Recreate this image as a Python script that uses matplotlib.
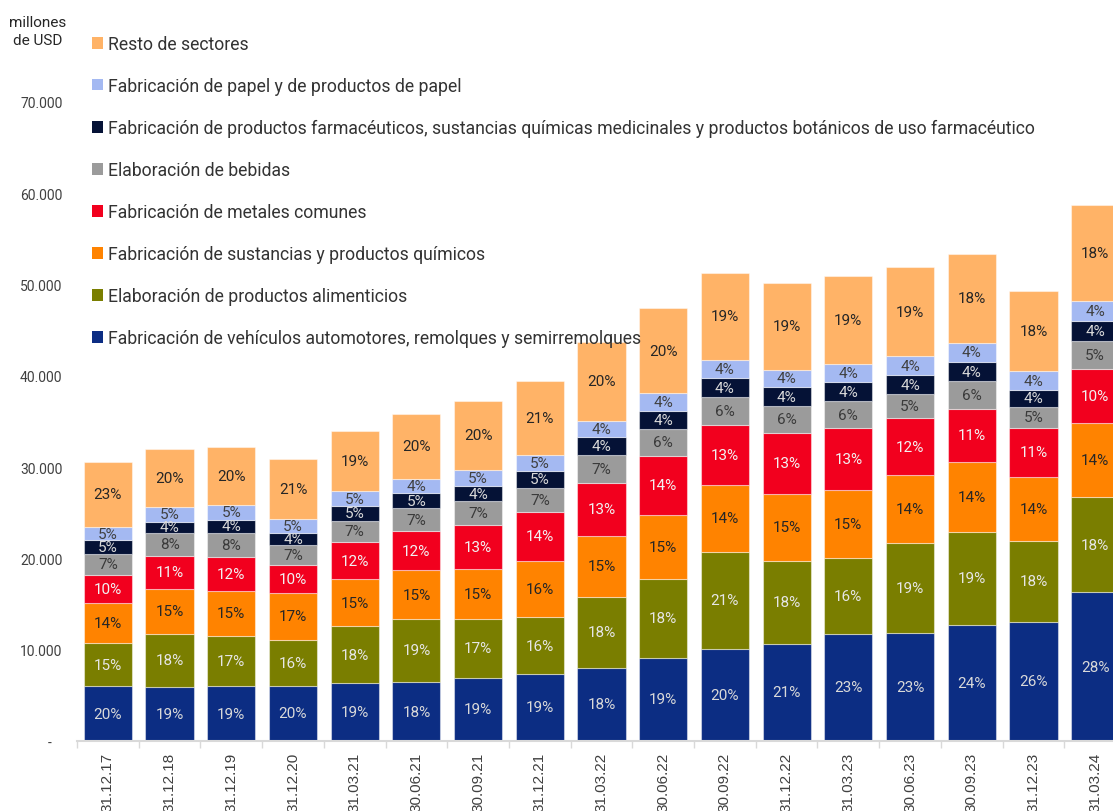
import matplotlib.pyplot as plt
import numpy as np
from matplotlib.patches import Patch
from matplotlib.ticker import FixedLocator, FuncFormatter

plt.rcParams['font.family'] = ['Roboto', 'DejaVu Sans']

fechas = ['31.12.17', '31.12.18', '31.12.19', '31.12.20', '31.03.21', '30.06.21', '30.09.21',
          '31.12.21', '31.03.22', '30.06.22', '30.09.22', '31.12.22', '31.03.23', '30.06.23',
          '30.09.23', '31.12.23', '31.03.24']

# millones de USD
vehiculos = [6020, 5950, 6000, 6060, 6350, 6460, 6950, 7340, 8000, 9140, 10130, 10670, 11760, 11830, 12720, 13040, 16320]
alimenticios = [4710, 5810, 5550, 5040, 6240, 6940, 6400, 6230, 7780, 8610, 10570, 9040, 8270, 9910, 10180, 8880, 10410]
quimicos = [4410, 4900, 4850, 5150, 5150, 5290, 5540, 6160, 6730, 6980, 7370, 7390, 7500, 7370, 7670, 7000, 8110]
metales = [3070, 3610, 3780, 3070, 4020, 4300, 4820, 5370, 5760, 6520, 6540, 6680, 6750, 6240, 5840, 5400, 5900]
bebidas = [2260, 2520, 2630, 2190, 2380, 2520, 2560, 2640, 3070, 2960, 3070, 2920, 2920, 2630, 3010, 2310, 3090]
farmaceuticos = [1530, 1200, 1390, 1280, 1570, 1640, 1640, 1820, 1920, 1940, 2080, 2050, 2080, 2080, 2110, 1800, 2190]
papel = [1420, 1680, 1680, 1530, 1680, 1580, 1820, 1800, 1830, 1930, 1940, 1930, 1970, 2110, 2070, 2110, 2230]
resto = [7180, 6290, 6290, 6540, 6570, 7080, 7490, 8110, 8650, 9350, 9610, 9500, 9640, 9720, 9750, 8770, 10450]

# (nombre, valores, color de barra, color del texto)
sectores = [
    ('Fabricación de vehículos automotores, remolques y semirremolques', vehiculos, '#0C2D83', '#D9D9D9'),
    ('Elaboración de productos alimenticios', alimenticios, '#7A7E00', '#E6E6E6'),
    ('Fabricación de sustancias y productos químicos', quimicos, '#FF8300', '#262626'),
    ('Fabricación de metales comunes', metales, '#F2001E', '#F2F2F2'),
    ('Elaboración de bebidas', bebidas, '#9B9B9B', '#3A3A3A'),
    ('Fabricación de productos farmacéuticos, sustancias químicas medicinales y productos botánicos de uso farmacéutico',
     farmaceuticos, '#051236', '#D9D9D9'),
    ('Fabricación de papel y de productos de papel', papel, '#A4B9F2', '#404040'),
    ('Resto de sectores', resto, '#FFB367', '#262626'),
]

W, H = 1113, 812
fig = plt.figure(figsize=(W / 100, H / 100), dpi=100)
ax = fig.add_axes([77 / W, 70 / H, 1049 / W, 730.3 / H])

x = np.arange(len(fechas))
totales = np.sum([s[1] for s in sectores], axis=0)
base = np.zeros(len(fechas))
for nombre, valores, color, tcolor in sectores:
    valores = np.array(valores, dtype=float)
    ax.bar(x, valores, 0.78, bottom=base, color=color, edgecolor=(1, 1, 1, 0.45), linewidth=0.8, zorder=2)
    for i in range(len(fechas)):
        ax.text(x[i], base[i] + valores[i] / 2, '{:.0f}%'.format(valores[i] / totales[i] * 100),
                ha='center', va='center', fontsize=11, color=tcolor, zorder=3)
    base += valores

ax.set_xlim(-0.5, len(fechas) - 0.5)
ax.set_ylim(0, 80000)

ax.set_yticks(range(0, 80000, 10000))
ax.yaxis.set_major_formatter(FuncFormatter(
    lambda v, pos: '-   ' if v == 0 else '{:,.0f}'.format(v).replace(',', '.')))
ax.tick_params(axis='y', length=0, pad=10.5, labelsize=10, labelcolor='#404040')

ax.set_xticks(x)
ax.set_xticklabels(fechas, rotation=90, family=['Liberation Sans'])
ax.tick_params(axis='x', which='major', length=0, pad=8, labelsize=11, labelcolor='#404040')
ax.xaxis.set_minor_locator(FixedLocator(np.arange(-0.5, len(fechas), 1)))
ax.tick_params(axis='x', which='minor', length=5, width=1, color='#D9D9D9')

for side in ['top', 'right', 'left']:
    ax.spines[side].set_visible(False)
ax.spines['bottom'].set_color('#D9D9D9')
ax.spines['bottom'].set_linewidth(1.5)

fig.text(38 / W, 1 - 32 / H, 'millones\nde USD', ha='center', va='center', fontsize=11,
         color='#262626', linespacing=1.3)

handles = [Patch(facecolor=s[2], edgecolor='none', label=s[0]) for s in reversed(sectores)]
leg = fig.legend(handles=handles, loc='upper left', bbox_to_anchor=(92 / W, 1 - 36 / H),
                 frameon=False, fontsize=12.7, labelspacing=1.36, handlelength=0.62, handleheight=0.62,
                 handletextpad=0.3, borderpad=0, borderaxespad=0, labelcolor='#333333')
leg.set_zorder(5)

fig.savefig('out.png', dpi=100)
